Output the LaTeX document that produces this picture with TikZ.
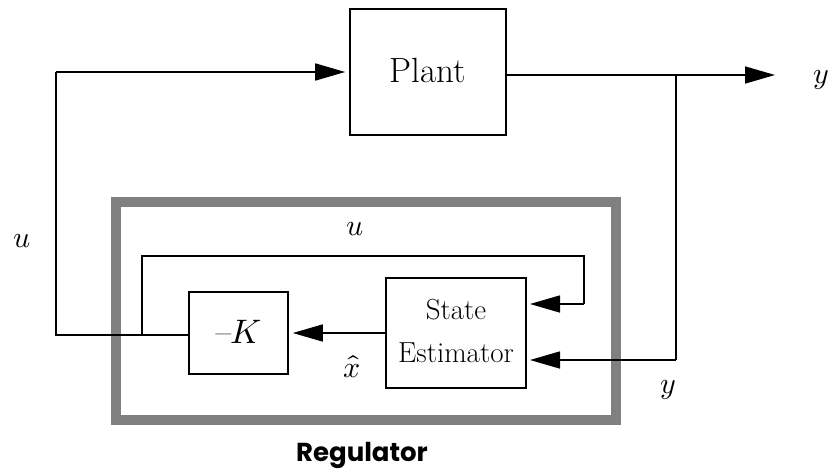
\documentclass[tikz,border=0pt]{standalone}
\usepackage{fontspec}
\usepackage{unicode-math}
\newfontfamily\regfont{Poppins}
\usetikzlibrary{arrows.meta}
\begin{document}
\begin{tikzpicture}[x=1pt,y=-1pt,
  box/.style={draw, line width=1.6pt, inner sep=0pt},
  wire/.style={line width=1.6pt},
  arr/.style={wire, -{Triangle[length=30pt,width=17pt]}, shorten >=4pt},
  lbl/.style={inner sep=0pt, font=\fontsize{30}{36}\selectfont}]
\useasboundingbox (0,0) rectangle (832,471);
% regulator frame
\draw[line width=10pt, color=black!50] (116,202) rectangle (616,420);
\node[font=\regfont\bfseries\fontsize{26}{30}\selectfont] (reglbl) at (362,455) {Regulator};
% blocks
\node[box, minimum width=156pt, minimum height=126pt, font=\fontsize{35}{40}\selectfont] (plant) at (428,72) {\raisebox{3pt}{Plant}};
\node[box, minimum width=99pt, minimum height=82pt, font=\fontsize{34}{40}\selectfont] (k) at (238.5,333) {\raisebox{2pt}{--\kern-1pt$K$}};
\node[box, minimum width=140pt, minimum height=110pt, align=center, font=\fontsize{29}{40}\selectfont\addfontfeatures{LetterSpace=5}] (est) at (456,333) {\raisebox{7pt}{State}\\\raisebox{4pt}{Estimator}};
% coordinates
\coordinate (ul) at (56,335);
\coordinate (uc) at (56,72);
\coordinate (yout) at (779,75);
\coordinate (br) at (676,75);
\coordinate (bry) at (676,360);
\coordinate (esty) at (526,360);
\coordinate (estu) at (526,304);
\coordinate (lp) at (142,335);
\coordinate (lpt) at (142,256);
\coordinate (lpr) at (584,256);
\coordinate (lprd) at (584,304);
% connectors
\draw[wire] (k.west |- ul) -- (ul) -- (uc);
\draw[arr] (uc) -- (plant.west |- uc);
\draw[arr] (plant.east |- yout) -- (yout);
\draw[wire] (br) -- (bry);
\draw[arr] (bry) -- (esty);
\draw[wire] (lp) -- (lpt) -- (lpr) -- (lprd);
\draw[arr] (lprd) -- (estu);
\draw[arr] (est.west) -- (k.east);
% labels
\node[lbl] (u1) at (22,241) {$u$};
\node[lbl] (u2) at (355,229) {$u$};
\node[lbl] (xh) at (352,367) {$\hat{x}$};
\node[lbl] (y1) at (821,80) {$y$};
\node[lbl] (y2) at (668,390) {$y$};
\end{tikzpicture}
\end{document}
